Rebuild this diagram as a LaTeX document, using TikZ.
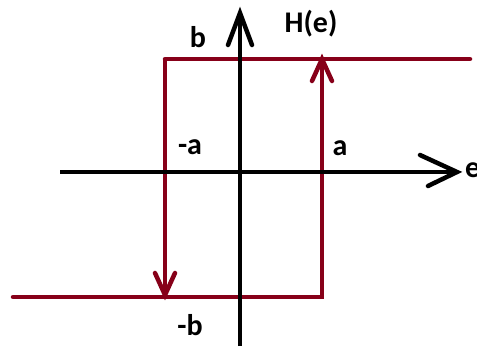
\documentclass[tikz,border=0pt]{standalone}
\usepackage{fontspec}
\setmainfont{Carlito}
\usetikzlibrary{arrows.meta,calc}
\definecolor{hred}{RGB}{135,0,25}
\begin{document}
\begin{tikzpicture}[x=1pt,y=-1pt,
  axis/.style={line width=4.5pt,black},
  loop/.style={line width=4.5pt,hred},
  lbl/.style={font=\bfseries\fontsize{30}{34}\selectfont,inner sep=0pt}]
\useasboundingbox (0,0) rectangle (477,346);
\fill[white] (0,0) rectangle (477,346);
% coordinates
\coordinate (xl) at (60,172);
\coordinate (xr) at (457,172);
\coordinate (yb) at (240,346);
\coordinate (yt) at (240,13);
\coordinate (tl) at (165,59);
\coordinate (tr) at (470,59);
\coordinate (bl) at (13,297);
\coordinate (br) at (322,297);
\coordinate (ltip) at (165,295);
\coordinate (rtip) at (322,59);
% red loop
\draw[loop,line cap=round] (tr) -- (tl);
\draw[loop] (tl) -- (ltip);
\draw[loop,line cap=round,line join=miter] (bl) -- (br) -- (rtip);
% red arrowheads
\draw[loop,line cap=round] ($(ltip)+(-10,-22)$) -- (ltip) -- ($(ltip)+(10,-22)$);
\draw[loop,line cap=round] ($(rtip)+(-10,22)$) -- (rtip) -- ($(rtip)+(10,22)$);
% axes
\draw[axis] (xl) -- (xr);
\draw[axis] (yb) -- (yt);
\draw[axis,line cap=round,line join=miter] ($(xr)+(-37,-17)$) -- (xr) -- ($(xr)+(-29,14)$);
\draw[axis,line cap=round,line join=miter] ($(yt)+(-12,32)$) -- (yt) -- ($(yt)+(12,32)$);
% labels
\node[lbl] (b) at (198,37) {b};
\node[lbl] (H) at (311,24) {H(e)};
\node[lbl] (ma) at (190,147) {-a};
\node[lbl] (a) at (340,148) {a};
\node[lbl,anchor=west] (e) at (465,170) {e};
\node[lbl] (mb) at (190,325) {-b};
\end{tikzpicture}
\end{document}
